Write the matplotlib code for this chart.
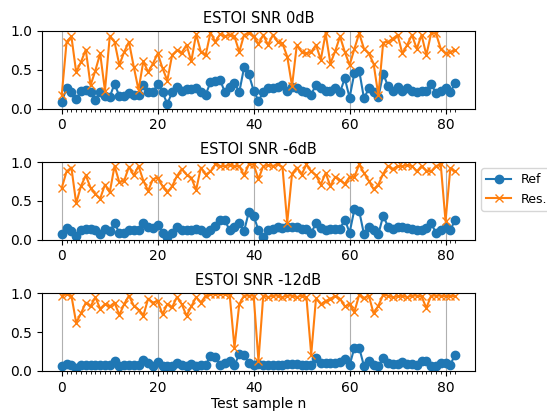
import numpy as np
import matplotlib
matplotlib.use("Agg")
import matplotlib.pyplot as plt

# ESTOI scores per test sample: reference vs. result, at three SNR levels
ref_0db = [0.09, 0.26, 0.21, 0.12, 0.23, 0.24, 0.21, 0.11, 0.22, 0.16,
           0.15, 0.32, 0.16, 0.16, 0.20, 0.18, 0.17, 0.30, 0.22, 0.21,
           0.32, 0.21, 0.06, 0.21, 0.28, 0.23, 0.25, 0.25, 0.26, 0.21,
           0.18, 0.34, 0.35, 0.37, 0.21, 0.28, 0.33, 0.21, 0.53, 0.44,
           0.23, 0.10, 0.21, 0.26, 0.26, 0.28, 0.31, 0.23, 0.28, 0.26,
           0.23, 0.21, 0.18, 0.31, 0.26, 0.23, 0.23, 0.26, 0.21, 0.39,
           0.14, 0.46, 0.49, 0.13, 0.26, 0.21, 0.15, 0.45, 0.29, 0.23,
           0.28, 0.23, 0.26, 0.23, 0.21, 0.23, 0.23, 0.32, 0.20, 0.23,
           0.26, 0.21, 0.33]
res_0db = [0.18, 0.86, 0.93, 0.47, 0.60, 0.76, 0.30, 0.49, 0.71, 0.23,
           0.93, 0.86, 0.56, 0.73, 0.86, 0.54, 0.24, 0.61, 0.47, 0.58,
           0.71, 0.52, 0.36, 0.69, 0.75, 0.72, 0.82, 0.61, 0.96, 0.73,
           0.69, 0.98, 0.86, 0.96, 0.93, 0.95, 0.93, 0.73, 0.95, 0.97,
           0.93, 0.83, 0.95, 0.82, 0.95, 0.86, 0.84, 0.67, 0.29, 0.82,
           0.73, 0.71, 0.73, 0.82, 0.63, 0.97, 0.58, 0.74, 0.93, 0.73,
           0.56, 0.77, 0.97, 0.77, 0.71, 0.58, 0.17, 0.85, 0.86, 0.90,
           0.95, 0.71, 0.82, 0.95, 0.77, 0.95, 0.69, 0.97, 0.97, 0.77,
           0.71, 0.73, 0.75]

ref_6db = [0.07, 0.15, 0.11, 0.05, 0.12, 0.14, 0.14, 0.12, 0.07, 0.14,
           0.11, 0.21, 0.09, 0.09, 0.12, 0.12, 0.12, 0.21, 0.17, 0.15,
           0.19, 0.09, 0.04, 0.09, 0.17, 0.12, 0.12, 0.12, 0.14, 0.12,
           0.09, 0.12, 0.18, 0.25, 0.25, 0.12, 0.16, 0.22, 0.11, 0.36,
           0.31, 0.12, 0.04, 0.12, 0.14, 0.16, 0.15, 0.17, 0.17, 0.16,
           0.14, 0.14, 0.09, 0.21, 0.15, 0.12, 0.14, 0.14, 0.14, 0.26,
           0.09, 0.39, 0.37, 0.07, 0.17, 0.12, 0.07, 0.31, 0.17, 0.14,
           0.16, 0.16, 0.15, 0.14, 0.12, 0.12, 0.15, 0.21, 0.09, 0.12,
           0.17, 0.12, 0.26]
res_6db = [0.67, 0.88, 0.93, 0.47, 0.69, 0.83, 0.67, 0.59, 0.53, 0.71,
           0.61, 0.95, 0.74, 0.76, 0.94, 0.83, 0.95, 0.76, 0.63, 0.78,
           0.80, 0.69, 0.61, 0.69, 0.82, 0.91, 0.84, 0.80, 0.64, 0.93,
           0.84, 0.88, 0.97, 0.95, 0.95, 0.96, 0.95, 0.95, 0.83, 0.97,
           0.97, 0.78, 0.95, 0.96, 0.95, 0.97, 0.94, 0.22, 0.85, 0.93,
           0.84, 0.97, 0.88, 0.83, 0.71, 0.86, 0.69, 0.81, 0.77, 0.72,
           0.81, 0.81, 0.97, 0.86, 0.76, 0.65, 0.71, 0.85, 0.95, 0.91,
           0.95, 0.95, 0.96, 0.95, 0.88, 0.95, 0.89, 0.88, 0.95, 0.97,
           0.24, 0.92, 0.88]

ref_12db = [0.06, 0.09, 0.07, 0.04, 0.08, 0.08, 0.08, 0.07, 0.07, 0.08,
            0.07, 0.13, 0.06, 0.08, 0.08, 0.08, 0.07, 0.14, 0.10, 0.06,
            0.12, 0.06, 0.06, 0.06, 0.10, 0.08, 0.06, 0.09, 0.06, 0.07,
            0.08, 0.19, 0.18, 0.07, 0.10, 0.13, 0.07, 0.22, 0.20, 0.10,
            0.08, 0.09, 0.08, 0.08, 0.08, 0.08, 0.08, 0.09, 0.09, 0.09,
            0.08, 0.07, 0.07, 0.16, 0.10, 0.10, 0.10, 0.10, 0.11, 0.15,
            0.07, 0.30, 0.30, 0.06, 0.13, 0.08, 0.06, 0.17, 0.10, 0.09,
            0.09, 0.11, 0.09, 0.09, 0.08, 0.13, 0.13, 0.06, 0.06, 0.10,
            0.10, 0.08, 0.21]
res_12db = [0.97, 0.99, 0.97, 0.62, 0.74, 0.88, 0.83, 0.95, 0.80, 0.86,
            0.83, 0.88, 0.72, 0.86, 0.97, 0.84, 0.79, 0.71, 0.93, 0.88,
            0.90, 0.73, 0.86, 0.82, 0.95, 0.86, 0.71, 0.83, 0.95, 0.88,
            0.97, 0.99, 0.99, 0.99, 0.99, 0.98, 0.30, 0.86, 0.97, 0.97,
            0.97, 0.13, 0.97, 0.95, 0.97, 0.97, 0.95, 0.97, 0.97, 0.95,
            0.97, 0.95, 0.21, 0.94, 0.86, 0.90, 0.93, 0.96, 0.93, 0.83,
            0.86, 0.76, 0.98, 0.94, 0.97, 0.74, 0.84, 0.98, 0.97, 0.95,
            0.96, 0.97, 0.95, 0.97, 0.97, 0.96, 0.81, 0.97, 0.97, 0.97,
            0.96, 0.97, 0.96]

titles = ["ESTOI SNR 0dB", "ESTOI SNR -6dB", "ESTOI SNR -12dB"]
series = [(ref_0db, res_0db), (ref_6db, res_6db), (ref_12db, res_12db)]

fig, axes = plt.subplots(3, 1, figsize=(5.47, 4.13), dpi=100)
fig.subplots_adjust(left=0.077, right=0.868, top=0.925, bottom=0.102, hspace=0.69)

for ax, title, (ref, res) in zip(axes, titles, series):
    n = np.arange(len(ref))
    ax.plot(n, ref, marker="o", color="tab:blue", label="Ref")
    ax.plot(n, res, marker="x", color="tab:orange", label="Res.")
    ax.set_title(title, fontsize=10.5)
    ax.set_ylim(0, 1)
    ax.set_yticks([0.0, 0.5, 1.0])
    ax.set_xticks([0, 20, 40, 60, 80])
    ax.set_xticks(n, minor=True)
    ax.grid(True, axis="x", which="major")

axes[1].legend(loc="upper left", bbox_to_anchor=(1.0, 1.0), fontsize=9)
axes[2].set_xlabel("Test sample n", labelpad=2)

fig.savefig("out.png", dpi=100)
